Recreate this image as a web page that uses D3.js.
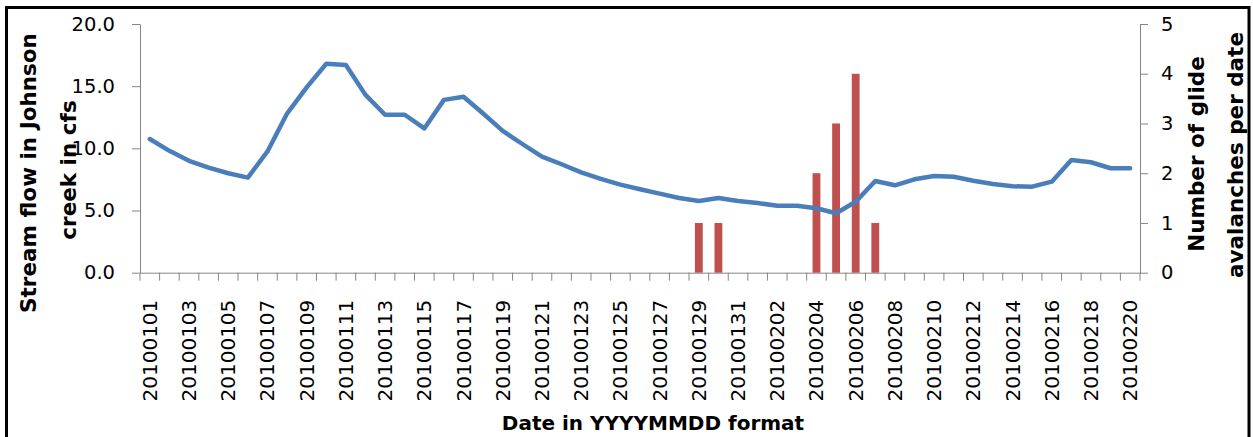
<!DOCTYPE html>
<html><head><meta charset="utf-8">
<script src="https://cdn.jsdelivr.net/npm/d3@7"></script>
<style>body{margin:0;background:#fff} svg{display:block}</style>
</head><body>
<svg id="c" width="1253" height="437"></svg>
<script>
const dates = [
"20100101","20100102","20100103","20100104","20100105","20100106","20100107","20100108","20100109","20100110",
"20100111","20100112","20100113","20100114","20100115","20100116","20100117","20100118","20100119","20100120",
"20100121","20100122","20100123","20100124","20100125","20100126","20100127","20100128","20100129","20100130",
"20100131","20100201","20100202","20100203","20100204","20100205","20100206","20100207","20100208","20100209",
"20100210","20100211","20100212","20100213","20100214","20100215","20100216","20100217","20100218","20100219",
"20100220"];
const flow = [
10.75, 9.8, 9.0, 8.45, 8.0, 7.65, 9.75, 12.8, 14.9, 16.8,
16.7, 14.3, 12.7, 12.7, 11.6, 13.9, 14.15, 12.8, 11.4, 10.35,
9.33, 8.72, 8.07, 7.54, 7.08, 6.71, 6.36, 6.01, 5.77, 6.01,
5.77, 5.6, 5.39, 5.39, 5.18, 4.78, 5.71, 7.38, 7.03, 7.51,
7.78, 7.72, 7.4, 7.14, 6.95, 6.92, 7.32, 9.07, 8.88, 8.4,
8.4];
const glides = [
0,0,0,0,0,0,0,0,0,0,
0,0,0,0,0,0,0,0,0,0,
0,0,0,0,0,0,0,0,1,1,
0,0,0,0,2,3,4,1,0,0,
0,0,0,0,0,0,0,0,0,0,
0];
const leftTicks = [0, 5, 10, 15, 20];
const rightTicks = [0, 1, 2, 3, 4, 5];
const leftTitle = ["Stream flow in Johnson", "creek in cfs"];
const rightTitle = ["Number of glide", "avalanches per date"];
const xTitle = "Date in YYYYMMDD format";

const svg = d3.select('#c');
const FONT = "'DejaVu Sans', sans-serif";
const AX = '#868686';

svg.append('rect').attr('x',6.5).attr('y',7.5).attr('width',1242.5).attr('height',445)
  .attr('fill','#fff').attr('stroke','#000').attr('stroke-width',3);

const x = d3.scaleBand().domain(dates).range([140,1140]).padding(0);
const yL = d3.scaleLinear().domain([0,20]).range([272.7,24]);
const yR = d3.scaleLinear().domain([0,5]).range([272.7,24]);
const cx = d => x(d) + x.bandwidth()/2;

function styleAxis(g){
  g.selectAll('path.domain').attr('stroke',AX).attr('stroke-width',1);
  g.selectAll('.tick line').attr('stroke',AX).attr('stroke-width',1);
  g.selectAll('text').attr('fill','#000').style('font-family',FONT).style('font-size','19.5px');
}

// Left axis
const gL = svg.append('g').attr('transform','translate(140,0)')
  .call(d3.axisLeft(yL).tickValues(leftTicks).tickFormat(d3.format('.1f')).tickSize(8).tickSizeOuter(0).tickPadding(17));
styleAxis(gL);

// Right axis
const gR = svg.append('g').attr('transform','translate(1140,0)')
  .call(d3.axisRight(yR).tickValues(rightTicks).tickFormat(d3.format('d')).tickSize(8).tickSizeOuter(0).tickPadding(13));
styleAxis(gR);

// X axis (labels every other date)
const gX = svg.append('g').attr('transform','translate(0,272.7)')
  .call(d3.axisBottom(x).tickValues(dates.filter((d,i)=>i%2===0)).tickSize(0).tickSizeOuter(0));
styleAxis(gX);
gX.selectAll('text').style('font-size','20px')
  .attr('transform','rotate(-90)').attr('x',-27).attr('y',0).attr('dy','0.35em')
  .style('text-anchor','end');
// category boundary ticks
const bounds = dates.map(d => x(d)).concat([x.range()[1]]);
gX.selectAll('line.bt').data(bounds).enter().append('line').attr('class','bt')
  .attr('x1',d=>d).attr('x2',d=>d).attr('y1',0).attr('y2',8)
  .attr('stroke',AX).attr('stroke-width',1);

// Bars
const bw = x.bandwidth()*0.4;
svg.append('g').selectAll('rect').data(dates.map((d,i)=>({d, v:glides[i]})).filter(o=>o.v>0))
  .enter().append('rect')
  .attr('x', o => cx(o.d) - bw/2).attr('width', bw)
  .attr('y', o => yR(o.v)).attr('height', o => yR(0) - yR(o.v))
  .attr('fill','#C0504D');

// Line
const line = d3.line().x((v,i)=>cx(dates[i])).y(v=>yL(v));
svg.append('path').datum(flow).attr('d',line).attr('fill','none')
  .attr('stroke','#4A7EBB').attr('stroke-width',4.5)
  .attr('stroke-linejoin','round').attr('stroke-linecap','round');

// Titles
function vTitle(txt, tx, ty){
  svg.append('text').attr('transform',`translate(${tx},${ty}) rotate(-90)`)
    .attr('dy','0.35em').attr('text-anchor','middle')
    .style('font-family',FONT).style('font-weight','bold').style('font-size','21.5px')
    .attr('fill','#000').text(txt);
}
vTitle(leftTitle[0], 28, 173);
vTitle(leftTitle[1], 68, 170);
vTitle(rightTitle[0], 1196, 154);
vTitle(rightTitle[1], 1235, 155);

svg.append('text').attr('x',653).attr('y',430).attr('text-anchor','middle')
  .style('font-family',FONT).style('font-weight','bold').style('font-size','20px')
  .attr('fill','#000').text(xTitle);
</script>
</body></html>
